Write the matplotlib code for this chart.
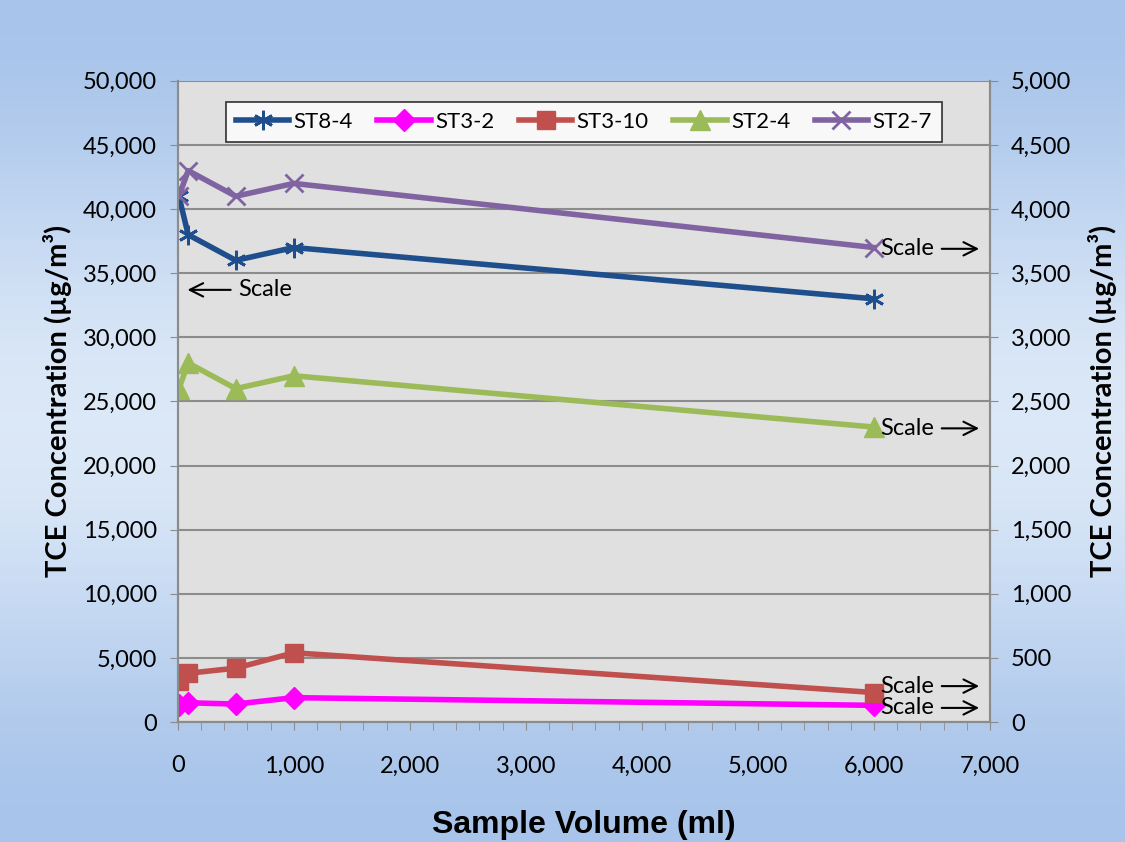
import numpy as np
import matplotlib.pyplot as plt
from matplotlib.ticker import FuncFormatter, MultipleLocator

# sample volumes (ml)
volume = [10, 90, 500, 1000, 6000]

# TCE concentration, ug/m3
st8_4 = [41000, 38000, 36000, 37000, 33000]   # left scale
st3_2 = [135, 150, 140, 190, 130]              # right scale
st3_10 = [320, 380, 420, 540, 230]             # right scale
st2_4 = [2600, 2800, 2600, 2700, 2300]         # right scale
st2_7 = [4100, 4300, 4100, 4200, 3700]         # right scale

fmt = FuncFormatter(lambda v, p: f"{int(v):,}")
plt.rcParams['font.family'] = ['Lato', 'DejaVu Sans']

fig = plt.figure(figsize=(11.25, 8.42), dpi=100)

# blue gradient background like excel
bg = fig.add_axes([0, 0, 1, 1], zorder=-10)
g = np.linspace(0, 1, 256)
grad = 0.5 - 0.5 * np.cos(g * np.pi * 2)
top = np.array([0.66, 0.77, 0.92])
mid = np.array([0.86, 0.91, 0.97])
img = top[None, :] * (1 - grad[:, None]) + mid[None, :] * grad[:, None]
img = np.tile(img[:, None, :], (1, 2, 1))
bg.imshow(img, aspect='auto', extent=[0, 1, 0, 1])
bg.axis('off')

ax = fig.add_axes([0.158, 0.1425, 0.722, 0.7615])
ax.set_facecolor('#e0e0e0')
ax2 = ax.twinx()

ax.plot(volume, st8_4, color='#1f4e8c', lw=4, marker=(6, 2, 0), ms=14, mew=2, label='ST8-4', zorder=5)
ax2.plot(volume, st3_2, color='#ff00ff', lw=4, marker='D', ms=11, label='ST3-2')
ax2.plot(volume, st3_10, color='#c0504d', lw=4, marker='s', ms=13, label='ST3-10')
ax2.plot(volume, st2_4, color='#9bbb59', lw=4, marker='^', ms=14, label='ST2-4')
ax2.plot(volume, st2_7, color='#8064a2', lw=4, marker='x', ms=13, mew=2, label='ST2-7')

ax.set_xlim(0, 7000)
ax.set_ylim(0, 50000)
ax2.set_ylim(0, 5000)
ax.xaxis.set_major_locator(MultipleLocator(1000))
ax.xaxis.set_minor_locator(MultipleLocator(200))
ax.yaxis.set_major_locator(MultipleLocator(5000))
ax2.yaxis.set_major_locator(MultipleLocator(500))
ax.xaxis.set_major_formatter(fmt)
ax.yaxis.set_major_formatter(fmt)
ax2.yaxis.set_major_formatter(fmt)

ax.grid(axis='y', color='#8c8c8c', lw=1.5)
ax.set_axisbelow(True)
for a in (ax, ax2):
    for s in a.spines.values():
        s.set_color('#8c8c8c')
        s.set_linewidth(1.5)
    a.spines['top'].set_visible(False)
ax.tick_params(axis='y', which='major', labelsize=17, length=6, color='#8c8c8c', pad=9)
ax.tick_params(axis='x', which='major', labelsize=17, length=6, color='#8c8c8c', pad=18)
ax.tick_params(axis='x', which='minor', length=6, color='#8c8c8c')
ax2.tick_params(axis='y', labelsize=17, length=6, color='#8c8c8c', pad=9)

ax.set_xlabel('Sample Volume (ml)', fontsize=23, fontweight='bold', family='Liberation Sans', labelpad=24)
ax.set_ylabel('TCE Concentration (µg/m³)', fontsize=21, fontweight='bold', labelpad=8)
ax2.set_ylabel('TCE Concentration (µg/m³)', fontsize=21, fontweight='bold', labelpad=12)

# scale annotations
ax.annotate('', xy=(60, 33700), xytext=(480, 33700),
            arrowprops=dict(arrowstyle='->', color='black', lw=1.5, mutation_scale=24))
ax.text(520, 33700, 'Scale', fontsize=17, va='center', ha='left')
for yv in (3690, 2290, 280, 110):
    ax2.text(6050, yv, 'Scale', fontsize=17, va='center', ha='left')
    ax2.annotate('', xy=(6930, yv), xytext=(6560, yv),
                 arrowprops=dict(arrowstyle='->', color='black', lw=1.5, mutation_scale=24))

h1, l1 = ax.get_legend_handles_labels()
h2, l2 = ax2.get_legend_handles_labels()
leg = ax2.legend(h1 + h2, l1 + l2, loc='upper center', bbox_to_anchor=(0.5, 0.985), ncol=5,
                 fontsize=16, frameon=True, fancybox=False, edgecolor='black',
                 handlelength=2.4, columnspacing=1.1, handletextpad=0.2, borderpad=0.45)
leg.get_frame().set_linewidth(1.2)

fig.savefig('out.png', dpi=100)
